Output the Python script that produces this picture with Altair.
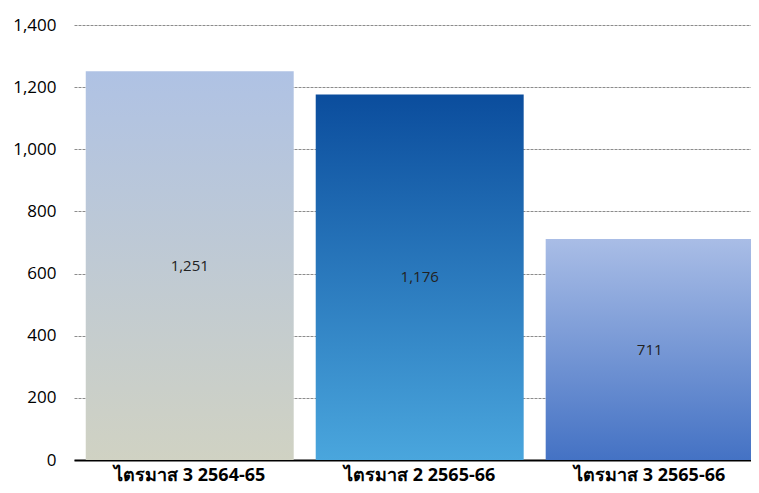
import altair as alt
import pandas as pd

categories = ["ไตรมาส 3 2564-65", "ไตรมาส 2 2565-66", "ไตรมาส 3 2565-66"]
values = [1251, 1176, 711]
y_ticks = [0, 200, 400, 600, 800, 1000, 1200, 1400]

# gradient styles per bar (top, bottom)
top_colors = ["#AFC2E4", "#0B4D9D", "#A9BDE6"]
bottom_colors = ["#D0D2C3", "#4AA6DD", "#4472C4"]

df = pd.DataFrame({"cat": categories, "value": values})

FONT = "Open Sans"

x_scale = alt.Scale(paddingInner=0.0957, paddingOuter=0.035, align=0.73)
x_axis = alt.Axis(
    labelAngle=0,
    ticks=False,
    grid=False,
    domain=True,
    domainColor="#000000",
    domainWidth=2,
    labelFont=FONT,
    labelFontSize=18,
    labelFontWeight="bold",
    labelColor="#000000",
    labelPadding=6,
)
y_scale = alt.Scale(domain=[0, 1400], nice=False, zero=True)
y_axis = alt.Axis(
    values=y_ticks,
    format=",d",
    ticks=False,
    domain=False,
    grid=True,
    gridColor="#8c8c8c",
    gridDash=[3, 1],
    gridWidth=1,
    labelFont=FONT,
    labelFontSize=17,
    labelColor="#000000",
    labelPadding=18,
)

layers = []
for i, c in enumerate(categories):
    grad = alt.Gradient(
        gradient="linear",
        x1=0, y1=0, x2=0, y2=1,
        stops=[
            alt.GradientStop(color=top_colors[i], offset=0),
            alt.GradientStop(color=bottom_colors[i], offset=1),
        ],
    )
    layers.append(
        alt.Chart(df)
        .transform_filter(alt.datum.cat == c)
        .mark_bar(color=grad)
        .encode(
            x=alt.X("cat:N", sort=categories, title=None, scale=x_scale, axis=x_axis),
            y=alt.Y("value:Q", title=None, scale=y_scale, axis=y_axis),
        )
    )

labels = (
    alt.Chart(df)
    .transform_calculate(mid="datum.value / 2")
    .mark_text(font=FONT, fontSize=15, color="#222222")
    .encode(
        x=alt.X("cat:N", sort=categories, title=None, scale=x_scale, axis=x_axis),
        y=alt.Y("mid:Q", title=None, scale=y_scale, axis=y_axis),
        text=alt.Text("value:Q", format=",d"),
    )
)

chart = (
    alt.layer(*layers, labels)
    .properties(
        width=684,
        height=435,
        background="#ffffff",
        autosize=alt.AutoSizeParams(type="none"),
        padding={"left": 66, "top": 17, "right": -7, "bottom": 25},
    )
    .configure_view(strokeWidth=0, stroke="transparent")
    .configure_axisY(domain=False)
    .configure_axisX(grid=False)
)

chart.save("out.html", embed_options={"renderer": "svg", "actions": False})
